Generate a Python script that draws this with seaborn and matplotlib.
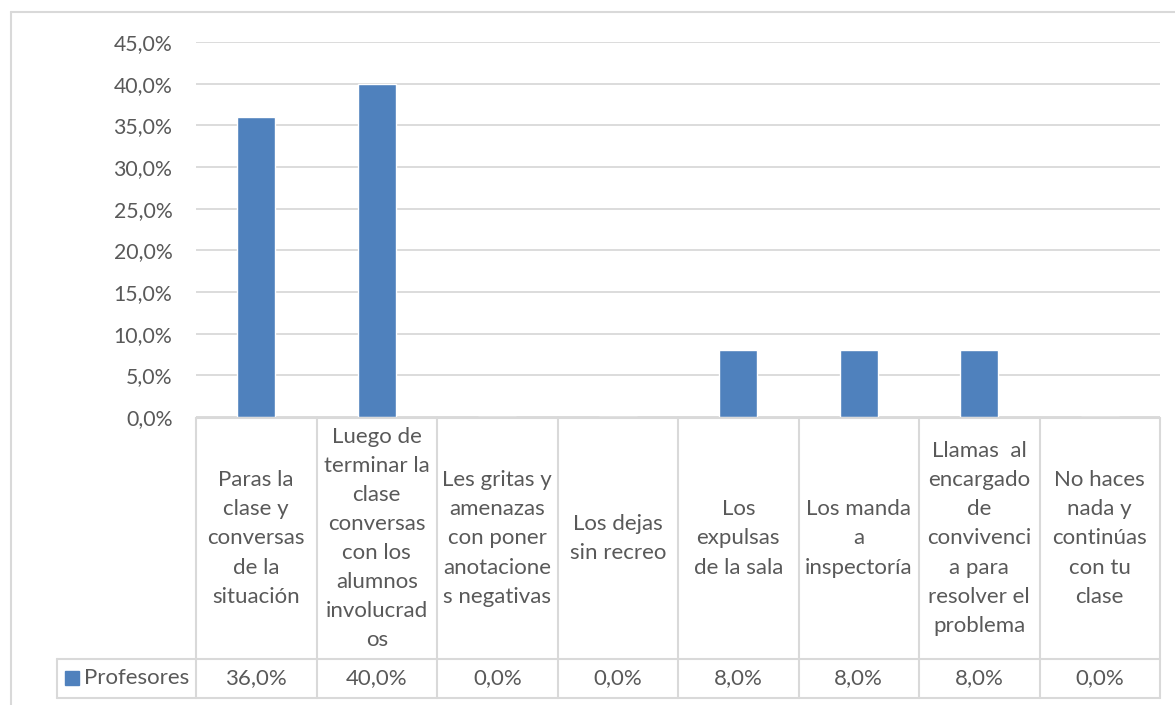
import matplotlib
matplotlib.use("Agg")
import matplotlib.pyplot as plt
import matplotlib.transforms as mtransforms
from matplotlib.lines import Line2D
from matplotlib.patches import Rectangle
import seaborn as sns
import pandas as pd

# Datos del grafico
categorias = [
    "Paras la\nclase y\nconversas\nde la\nsituación",
    "Luego de\nterminar la\nclase\nconversas\ncon los\nalumnos\ninvolucrad\nos",
    "Les gritas y\namenazas\ncon poner\nanotacione\ns negativas",
    "Los dejas\nsin recreo",
    "Los\nexpulsas\nde la sala",
    "Los manda\na\ninspectoría",
    "Llamas  al\nencargado\nde\nconvivenci\na para\nresolver el\nproblema",
    "No haces\nnada y\ncontinúas\ncon tu\nclase",
]
valores = [36.0, 40.0, 0.0, 0.0, 8.0, 8.0, 8.0, 0.0]
serie = "Profesores"
ticks_y = [0, 5, 10, 15, 20, 25, 30, 35, 40, 45]

W, H = 1175, 705
AZUL = "#4F81BD"
GRIS_TXT = "#595959"
GRIS_LIN = "#D9D9D9"

sns.set_style("white")
plt.rcParams['font.family'] = ['Lato', 'DejaVu Sans']

def fy(ypx):
    # pixel vertical (desde arriba) -> fraccion de figura
    return 1 - ypx / H

def fx(xpx):
    return xpx / W

fig = plt.figure(figsize=(W / 100, H / 100), dpi=100)
ax = fig.add_axes([fx(196), fy(417), fx(1160) - fx(196), fy(42) - fy(417)])

df = pd.DataFrame({"categoria": categorias, "valor": valores})
sns.barplot(data=df, x="categoria", y="valor", order=categorias, color=AZUL,
            saturation=1, width=0.318, ax=ax)

ax.set_xlim(-0.5, len(categorias) - 0.5)
ax.set_ylim(0, 45)
ax.set_yticks(ticks_y)
ax.set_yticklabels([f"{t:.1f}%".replace(".", ",") for t in ticks_y])
ax.set_xticks([])
ax.set_xlabel("")
ax.set_ylabel("")
ax.tick_params(axis="y", length=0, pad=17, labelsize=15.3, labelcolor=GRIS_TXT)
ax.yaxis.grid(True, color=GRIS_LIN, lw=1.3)
ax.set_axisbelow(True)
for s in ax.spines.values():
    s.set_visible(False)

# Tabla de datos debajo del grafico
trans = mtransforms.blended_transform_factory(ax.transData, fig.transFigure)
x0, x1 = -0.5, len(categorias) - 0.5
y_top, y_mid, y_bot = fy(418), fy(659), fy(698)

def linea(xs, ys, t):
    fig.add_artist(Line2D(xs, ys, transform=t, color=GRIS_LIN, lw=1.5))

linea([x0, x1], [y_top, y_top], trans)
for i in range(len(categorias) + 1):
    linea([i - 0.5, i - 0.5], [y_top, y_bot], trans)
x_leg = ax.transData.inverted().transform(fig.transFigure.transform((fx(57), 0)))[0]
linea([x_leg, x1], [y_mid, y_mid], trans)
linea([x_leg, x1], [y_bot, y_bot], trans)
linea([x_leg, x_leg], [y_mid, y_bot], trans)

for i, (cat, val) in enumerate(zip(categorias, valores)):
    fig.text(i, (y_top + y_mid) / 2, cat, transform=trans, ha="center", va="center",
             fontsize=16, color=GRIS_TXT, linespacing=1.57)
    fig.text(i, (y_mid + y_bot) / 2, f"{val:.1f}%".replace(".", ","), transform=trans,
             ha="center", va="center", fontsize=16, color=GRIS_TXT)

# leyenda en la tabla
fig.patches.append(Rectangle((fx(65), fy(685)), fx(14), fy(671) - fy(685),
                             transform=fig.transFigure, color=AZUL))
fig.text(fx(84), (y_mid + y_bot) / 2, serie, ha="left", va="center", fontsize=16, color=GRIS_TXT)

# borde del area del grafico
fig.add_artist(Line2D([fx(11), 1], [fy(12), fy(12)], transform=fig.transFigure, color=GRIS_LIN, lw=1.5))
fig.add_artist(Line2D([fx(11), fx(11)], [fy(12), 0], transform=fig.transFigure, color=GRIS_LIN, lw=1.5))

fig.savefig("out.png", dpi=100, facecolor="white")
